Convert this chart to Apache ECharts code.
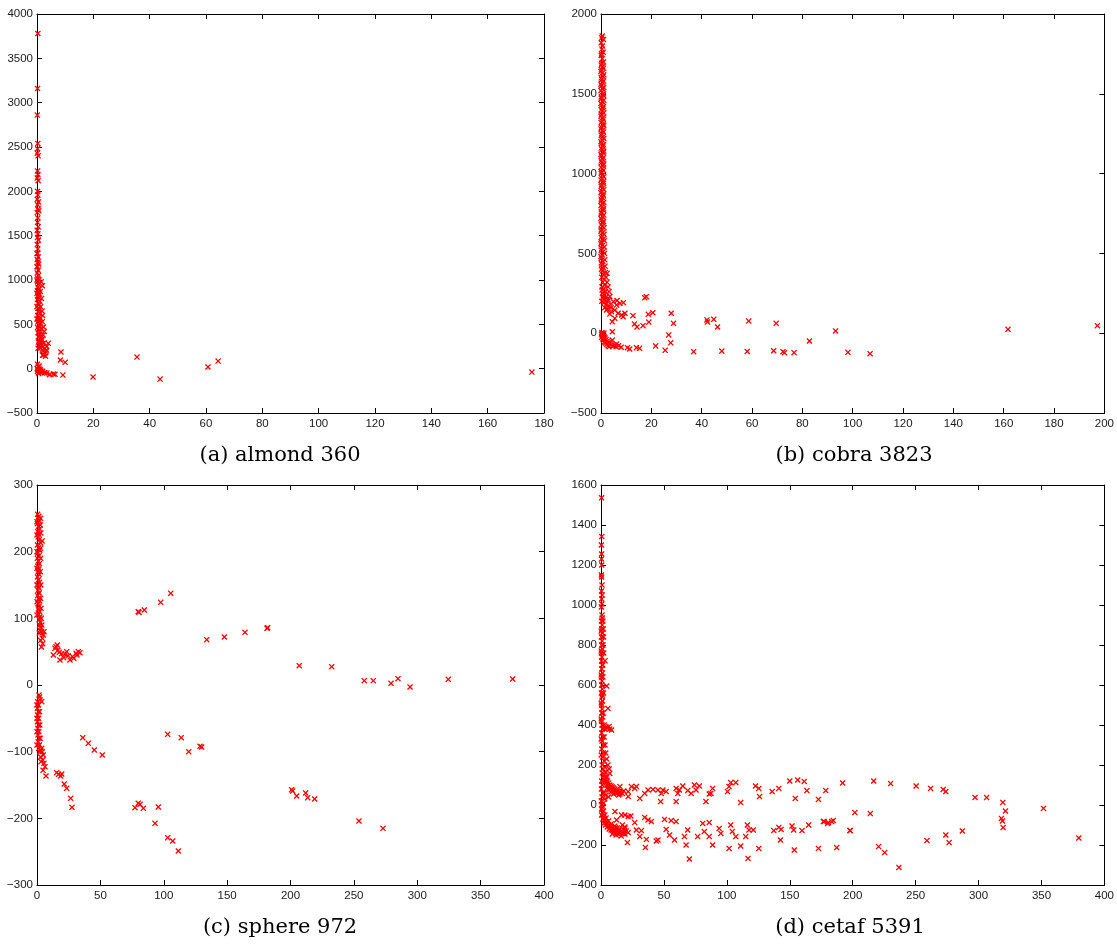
<!DOCTYPE html>
<html>
<head>
<meta charset="utf-8">
<script src="https://cdn.jsdelivr.net/npm/echarts@6/dist/echarts.min.js"></script>
<style>
html,body{margin:0;padding:0;background:#fff;}
#c{width:1117px;height:946px;}
</style>
</head>
<body>
<div id="c"></div>
<script>
// ---- data ----
const captions = ['(a) almond 360', '(b) cobra 3823', '(c) sphere 972', '(d) cetaf 5391'];

const xMax = [180, 200, 400, 400];
const xStep = [20, 20, 50, 50];
const yMin = [-500, -500, -300, -400];
const yMax = [4000, 2000, 300, 1600];
const yStep = [500, 500, 100, 200];

const almondPts = [
[0.3,3780],[0.2,3160],[0.1,2860],[0.3,2540],[0.2,2480],[0.1,2430],[0.4,2400],[0.2,2230],[0.3,2190],[0.1,2150],[0.4,2120],
[0.2,2000],[0.3,1960],[0.1,1910],[0.5,1880],[0.2,1850],[0.4,1800],[0.6,1780],[0.1,1760],[0.3,1700],[0.2,1650],[0.4,1600],
[0.1,1560],[0.3,1520],[0.2,1480],[0.5,1450],[0.1,1400],[0.3,1350],[0.2,1300],[0.4,1260],[0.1,1230],[0.3,1200],[0.6,1180],
[0.2,1150],[0.4,1110],[0.1,1080],[0.5,1050],[0.3,1020],[0.7,1000],[0.2,980],[0.5,950],[1.9,935],[0.3,920],[0.8,900],
[0.2,880],[0.5,860],[0.9,840],[0.3,820],[0.6,800],[0.2,780],[1.0,760],[0.4,740],[0.7,720],[1.3,698],[0.3,680],[0.8,660],
[0.5,640],[1.1,620],[0.2,600],[0.7,585],[1.2,570],[0.4,555],[0.9,540],[0.3,525],[1.3,510],[0.6,495],[1.0,480],[0.2,465],
[1.4,450],[0.7,435],[1.1,420],[0.4,405],[2.2,379],[0.9,390],[1.5,370],[0.5,360],[1.2,345],[1.8,330],[0.8,320],[1.4,305],
[2.5,290],[1.0,280],[1.7,265],[3.4,248],[2.2,250],[1.3,235],[2.8,225],[1.9,210],[2.8,173],[3.2,190],[2.4,160],[3.0,140],
[2.0,150],[4.0,286],[3.4,210],[1.7,323],[2.2,154],[0.5,300],[0.9,260],[0.4,230],
[1.5,980],[1.2,870],[1.6,790],[1.8,650],[2.0,600],[1.9,530],[2.3,470],[2.6,420],[0.0,560],[0.0,700],[0.0,850],
[0.0,1000],[0.0,1150],[0.0,1300],
[0.1,0],[0.3,-10],[0.6,-20],[0.2,-30],[0.9,-15],[1.2,-35],[0.5,-45],[1.7,-41],[2.6,-45],[3.5,-50],[4.4,-68],[5.8,-60],
[1.0,-5],[0.4,20],[0.8,30],[0.2,50],[0.6,-55],[1.4,-25],[2.0,-30],[1.1,-15],[2.8,-46],[4.6,-64],[6.4,-64],
[8.5,188],[8.3,98],[10,72],[9.2,-72],[19.9,-94],[35.5,131],[43.7,-117],[60.7,19],[64.3,86],[175.7,-38]
];

const cobraPts = [
[0.5,1862],[0.3,1850],[0.6,1800],[0.4,1780],[0.2,1750],[0.5,1720],[0.3,1690],[0.6,1670],[0.2,1650],[0.5,1630],[0.8,1610],
[0.3,1590],[0.6,1570],[0.2,1550],[0.7,1530],[0.4,1510],[0.9,1490],[0.2,1470],[0.6,1450],[0.3,1430],[0.8,1410],[0.5,1390],
[0.2,1370],[0.7,1350],[0.4,1330],[0.9,1310],[0.2,1290],[0.6,1270],[0.3,1250],[0.8,1230],[0.5,1210],[0.2,1190],[0.7,1170],
[0.4,1150],[0.9,1130],[0.2,1110],[0.6,1090],[0.3,1070],[0.8,1050],[0.5,1030],[0.2,1010],[0.7,990],[0.4,970],[0.9,950],
[0.2,930],[0.6,910],[0.3,890],[0.8,870],[0.5,850],[0.2,830],[0.7,810],[0.4,790],[0.9,770],[0.2,750],[0.6,730],[0.3,710],
[0.8,690],[0.5,670],[0.2,650],[0.7,630],[0.4,610],[0.9,590],[0.2,570],[0.6,550],[0.3,530],[0.8,510],[0.5,490],[0.2,470],
[0.7,450],[0.4,430],[0.9,410],
[1.0,1840],[0.1,1820],[0.9,1760],[0.1,1740],[1.0,1700],[0.1,1680],[1.0,1660],[0.0,1640],[1.1,1620],[0.1,1600],[1.0,1580],
[0.0,1560],[1.1,1540],[0.0,1520],[1.0,1500],[0.1,1480],[1.1,1460],[0.0,1440],[1.0,1420],[0.1,1400],[1.1,1380],[0.0,1360],
[1.0,1340],[0.1,1320],[1.1,1300],[0.0,1280],[1.0,1260],[0.1,1240],[1.1,1220],[0.0,1200],[1.0,1180],[0.1,1160],[1.1,1140],
[0.0,1120],[1.0,1100],[0.1,1080],[1.1,1060],[0.0,1040],[1.0,1020],[0.1,1000],[1.1,980],[0.0,960],[1.0,940],[0.1,920],
[1.1,900],[0.0,880],[1.0,860],[0.1,840],[1.1,820],[0.0,800],[1.0,780],[0.1,760],[1.1,740],[0.0,720],[1.0,700],[0.1,680],
[1.2,660],[0.0,640],[1.2,620],[0.1,600],[1.3,580],[0.0,560],[1.3,540],[0.1,520],[1.4,500],[0.0,480],[1.5,460],[0.1,440],
[1.6,420],[0.2,400],[1.7,380],[2.0,350],[2.4,320],[2.8,290],[3.2,260],[3.5,230],
[0.5,390],[1.0,370],[0.3,350],[1.2,340],[0.7,320],[1.5,300],[0.4,290],[1.0,275],[1.8,260],[0.6,250],[1.3,240],[2.2,230],
[0.8,220],[1.6,210],[2.6,200],[1.1,190],[2.0,180],[3.0,170],[1.5,160],[2.5,150],[0.5,270],[0.9,230],[0.3,200],[2.4,375],
[2.9,208],[4.9,197],[3.6,166],[5.5,145],[6.8,125],[8.2,114],[8.8,103],[7.5,187],[2.2,145],[4.2,135],[6.2,177],[9.5,125],
[5.5,93],[4.5,72],[4.5,9],[6.4,205],[8.9,191],[3.5,120],[4.0,160],
[17.4,222],[18,229],[12.7,110],[18.8,118],[20.6,128],[27.9,125],[13.3,58],[14.3,39],[16.7,47],[19,70],[28.8,62],[42.1,83],
[42.3,70],[44.8,87],[46.3,39],[58.7,76],[69.6,62],[93.2,14],[161.7,24],[197.2,47],
[26.9,-11],[27.7,-60],[25.5,-107],[21.7,-80],[10.5,-91],[11.4,-99],[14.1,-91],[15.3,-95],[36.8,-116],[48,-112],[58.1,-114],
[68.6,-110],[72.3,-116],[72.9,-122],[76.7,-122],[82.8,-49],[98.1,-120],[106.9,-128],[4.5,-43],[5.5,-74],[6.2,-68],
[0.2,-5],[0.5,-15],[0.9,-8],[0.3,-25],[1.2,-20],[0.7,-35],[1.6,-30],[1.0,-45],[2.0,-40],[1.4,-55],[2.5,-50],[1.8,-62],
[3.0,-58],[2.3,-70],[3.5,-66],[2.8,-78],[4.0,-75],[3.2,-85],[4.8,-80],[6.0,-85],[7.0,-78],[8.0,-88],[0.4,5],[0.8,-2],[1.2,0]
];

const spherePts = [
[0.5,256],[1.5,253],[0.8,250],[1.8,246],[0.3,242],[1.2,238],[2.0,234],[0.6,230],[1.5,226],[0.9,222],[1.8,218],[4,216],
[3,213],[0.4,210],[1.3,206],[2.1,202],[0.7,198],[1.6,194],[0.3,190],[1.1,186],[1.9,182],[0.6,178],[1.4,174],[0.9,170],
[1.7,166],[0.4,162],[1.2,158],[2.0,154],[0.7,150],[1.5,146],[0.9,142],[1.8,138],[0.5,134],[1.3,130],[2.1,126],[0.8,122],
[1.6,118],[1.1,114],[2.0,110],[1.4,106],[2.3,102],[1.7,98],[2.6,94],[2.0,90],[3.0,86],[2.4,82],[1.8,78],[3.7,80],[5,75],
[4.5,62],[2.9,67],[5.5,80],[4.2,70],[3.5,57],
[2.8,250],[2.6,240],[3.0,228],[2.7,205],[2.9,190],[2.6,170],[3.0,150],[2.8,130],[3.2,115],[3.4,100],[3.8,90],[0.0,245],
[0.0,225],[0.0,200],[0.0,175],[0.0,150],[0.0,125],[0.0,105],
[12.9,45],[15,57.5],[16,60],[14.2,55],[18.1,37.5],[17.6,49],[22.1,46.5],[23.4,50],[26,37.5],[28.1,42.5],[30.8,47.5],
[32.6,50],[33.9,48.5],[16.5,52],[19.5,47],[24.5,44],[31.5,45],[29,40],[21,41],
[79.9,110],[84.7,112.5],[80.5,109],[97.6,124],[105.5,137.5],[133.9,68],[147.8,72],[164.1,79],[182,86],[181.5,85],
[206.9,29],[232.5,27.5],[258.2,6.5],[265.3,6.5],[279.3,2.5],[284.8,9.5],[294.3,-3],[324.5,8.5],[375.3,9],
[1.6,-15],[2.4,-22.5],[3.7,-25],[2.0,-18],[0.5,-25],[1.2,-30],[0.3,-35],[1.0,-40],[0.5,-45],[1.3,-50],[0.4,-55],[1.1,-60],
[0.6,-65],[1.4,-70],[0.8,-75],[1.6,-80],[1.0,-85],[1.9,-90],[1.3,-95],[2.3,-100],[3.7,-95],[5,-105],[4.5,-112.5],
[5.5,-117.5],[6.3,-122.5],[7.1,-136.5],[4.0,-100],[3.0,-98],[4.8,-128],
[0.0,-30],[0.0,-50],[0.0,-70],[0.0,-90],[2.0,-40],[2.2,-60],[2.5,-80],[2.8,-108],[3.2,-115],
[36.1,-79],[40.5,-87.5],[45.2,-97.5],[51.5,-105],[15.5,-131.5],[19.5,-133.5],[18.7,-136.5],[17,-134],[21.5,-148.5],
[23.4,-155],[26.6,-170],[27.6,-183.5],[103.1,-74],[113.8,-79],[119.7,-100],[128.6,-92],[129.9,-93],[77.3,-184],
[79.9,-177.5],[81.3,-179],[83.9,-185],[95.7,-183],[93.1,-207.5],[103.1,-229],[107.1,-234],[111.5,-249],[200.9,-157],
[201.7,-159],[204.9,-166.5],[212,-162],[213.6,-169],[219.1,-171],[254,-204],[273,-215]
];

const cetafPts = [
[0.5,1536],[0.6,1342],[0.3,1300],[0.5,1255],[0.4,1230],[0.6,1200],[0.3,1150],[0.5,1140],[0.8,1100],[0.4,1070],[0.9,1050],
[0.5,1030],[0.7,1005],[0.3,990],[0.8,950],[1.0,935],[0.4,920],[0.9,900],[0.5,880],[1.2,860],[0.3,840],[0.8,820],[0.5,800],
[1.0,780],[0.3,760],[0.7,740],[3.2,721],[0.4,720],[0.9,700],[0.5,680],[1.1,660],[0.3,640],[0.8,620],[4.5,595],[0.5,600],
[1.0,580],[0.3,560],[0.8,540],[1.2,520],[0.4,500],[5.5,483],[0.9,480],[0.5,460],[1.3,440],[0.3,420],[2.5,400],[0.8,400],
[4,390],[6.3,392],[3,380],[5,385],[7,380],[8.4,375],[1.2,380],[0.5,360],[1.5,340],[0.8,320],[1.8,300],[0.6,280],[2.0,260],
[1.2,240],[2.5,220],[0.9,200],[3.0,190],[1.8,180],[3.5,165],[2.5,150],[4.5,140],[7,158],
[1.5,920],[1.8,880],[2.0,840],[1.6,800],[2.2,760],[1.5,640],[2.0,560],[1.8,460],[2.5,340],[3.2,300],[3.8,260],[4.5,230],
[5.5,200],[6.5,180],[1.0,550],[1.4,700],[0.2,870],[0.2,770],[0.2,650],[0.2,510],[0.2,430],[0.2,330],[0.2,250],
[1,160],[2,150],[3,140],[4,130],[5,120],[6,110],[7,100],[8,95],[9,90],[10,85],[11,80],[12,75],[13,70],[14,68],[15,65],
[16,62],[3,120],[5,100],[7,85],[9,75],[11,65],[13,60],[4,110],[6,95],[8,80],[10,70],[12,60],[15,55],[2,130],[6,75],
[10,55],[14,50],[17,58],[18,70],[8,65],[5,85],
[0.5,120],[1,100],[0.3,80],[1.5,60],[0.8,40],[0.2,20],[1.0,0],[0.4,-20],[1.2,-40],[2,-60],[3,-75],[4,-85],[5,-95],
[6,-100],[7,-108],[8,-112],[9,-118],[10,-122],[11,-125],[12,-128],[13,-130],[14,-135],[15,-138],[16,-140],[17,-142],
[18,-140],[19,-145],[1.5,-70],[2.5,-90],[3.5,-100],[5,-110],[6.5,-120],[8,-125],[10,-132],[12,-140],[14,-145],[0.5,-50],
[2,-30],[3,-50],[4,-65],[6,-80],[1,-10],[2,10],[3,30],[2.5,60],[4,50],[6,40],[8,-95],[11,-105],[13,-115],[15,-120],
[18,-125],[20,-130],[19,-110],[17,-100],[16,-155],[12,-150],[9,-145],
[15,92],[21.6,67],[24.2,92],[26.8,83],[28.1,92],[21.6,42],[30.8,33],[34.7,58],[37.4,75],[41.3,78],[45.3,75],[47.9,58],
[49.2,75],[51.8,67],[47.4,17],[59.7,83],[61,58],[62.3,75],[59.7,17],[65,95],[68.9,72],[71.6,58],[74.2,100],[78.1,95],
[75.5,75],[83.4,17],[86,55],[88.7,83],[87.3,58],[100.5,67],[101.8,92],[103.1,112],[107.1,112],[111,12],[122.8,95],
[125.4,83],[126,42],[136,67],[141.3,83],[150,120],[156.3,125],[161.5,118],[154.4,33],[163.6,72],[172.8,28],[178.6,72],
[192,110],[216.7,120],[230.1,107],[250.4,95],[261.9,83],[271.9,78],[274,67],[297.2,38],[306.4,37],[319.3,13],
[321.4,-30],[318.2,-67],[319,-80],[319.5,-113],[351.6,-17],[379.7,-165],
[11.1,-33],[12.4,-75],[16.3,-50],[19,-50],[21.6,-58],[23.7,-55],[11.6,-112],[19,-117],[26.8,-88],[28.1,-125],
[21.6,-138],[21,-188],[32.1,-128],[34.7,-62],[37.4,-75],[40,-83],[30.8,-158],[35.3,-212],[36.1,-172],[43.9,-180],
[45.3,-175],[50.5,-72],[55.8,-78],[59.7,-83],[51.8,-122],[54.5,-150],[58.4,-175],[66.3,-158],[68.9,-125],[67.6,-200],
[70.2,-270],[76.8,-158],[80.8,-92],[86,-88],[82.1,-133],[86,-158],[88.7,-200],[93.9,-117],[95.2,-142],[103.1,-100],
[104.4,-133],[101.8,-217],[107.1,-158],[111,-205],[115,-158],[116.3,-100],[117.6,-125],[116.8,-267],[121,-125],
[125.4,-217],[137.3,-128],[141.3,-112],[142.6,-175],[143.1,-122],[151.8,-105],[153.1,-125],[153.6,-225],[159.7,-128],
[165,-100],[172.8,-217],[177.3,-83],[180.7,-88],[183.3,-83],[184.6,-78],[187.3,-213],[197.8,-128],[201.7,-38],
[214,-43],[198,-128],[220.6,-208],[225.4,-238],[236.7,-312],[259,-178],[274,-150],[276.6,-188],[287.1,-130],
[176.7,-83],[180.1,-92]
];

const panels = [almondPts, cobraPts, spherePts, cetafPts];

// ---- layout ----
const gridPos = [
  {left: 37, top: 14, width: 507, height: 399},
  {left: 601, top: 14, width: 507, height: 399},
  {left: 37, top: 485, width: 507, height: 400},
  {left: 601, top: 485, width: 507, height: 400}
];
const capPos = [[280, 456], [854, 456], [280, 928], [850, 928]];

const xMarker = 'path://M0,1.5L1.5,0L5,3.5L8.5,0L10,1.5L6.5,5L10,8.5L8.5,10L5,6.5L1.5,10L0,8.5L3.5,5Z';
const labelFont = {fontFamily: 'Liberation Sans', fontSize: 11.5, color: '#1a1a1a'};
const fmt = v => String(v).replace('-', '\u2212');

const grid = [], xAxis = [], yAxis = [], series = [], graphic = [];
for (let i = 0; i < 4; i++) {
  grid.push(Object.assign({show: false}, gridPos[i]));
  const lineStyle = {color: '#000', width: 1};
  const tick = {show: true, inside: true, length: 5, lineStyle: {color: '#000', width: 1}};
  const common = {type: 'value', gridIndex: i, splitLine: {show: false}, axisLine: {show: true, onZero: false, lineStyle}, axisTick: tick};
  xAxis.push(Object.assign({}, common, {position: 'bottom', min: 0, max: xMax[i], interval: xStep[i],
    axisLabel: Object.assign({show: true, margin: 5, formatter: fmt}, labelFont)}));
  xAxis.push(Object.assign({}, common, {position: 'top', min: 0, max: xMax[i], interval: xStep[i], axisLabel: {show: false}}));
  yAxis.push(Object.assign({}, common, {position: 'left', min: yMin[i], max: yMax[i], interval: yStep[i],
    axisLabel: Object.assign({show: true, margin: 4, formatter: fmt}, labelFont)}));
  yAxis.push(Object.assign({}, common, {position: 'right', min: yMin[i], max: yMax[i], interval: yStep[i], axisLabel: {show: false}}));
  series.push({
    type: 'scatter', xAxisIndex: 2 * i, yAxisIndex: 2 * i,
    data: panels[i], symbol: xMarker, symbolSize: 6,
    itemStyle: {color: '#ff0000', opacity: 1}, silent: true
  });
  graphic.push({
    type: 'text', x: capPos[i][0], y: capPos[i][1],
    style: {text: captions[i], font: '21px "DejaVu Serif"', fill: '#000',
      align: 'center', verticalAlign: 'middle', textAlign: 'center', textVerticalAlign: 'middle'}
  });
}

const chart = echarts.init(document.getElementById('c'), null, {renderer: 'canvas'});
chart.setOption({animation: false, backgroundColor: '#fff', grid, xAxis, yAxis, series, graphic});
</script>
</body>
</html>
